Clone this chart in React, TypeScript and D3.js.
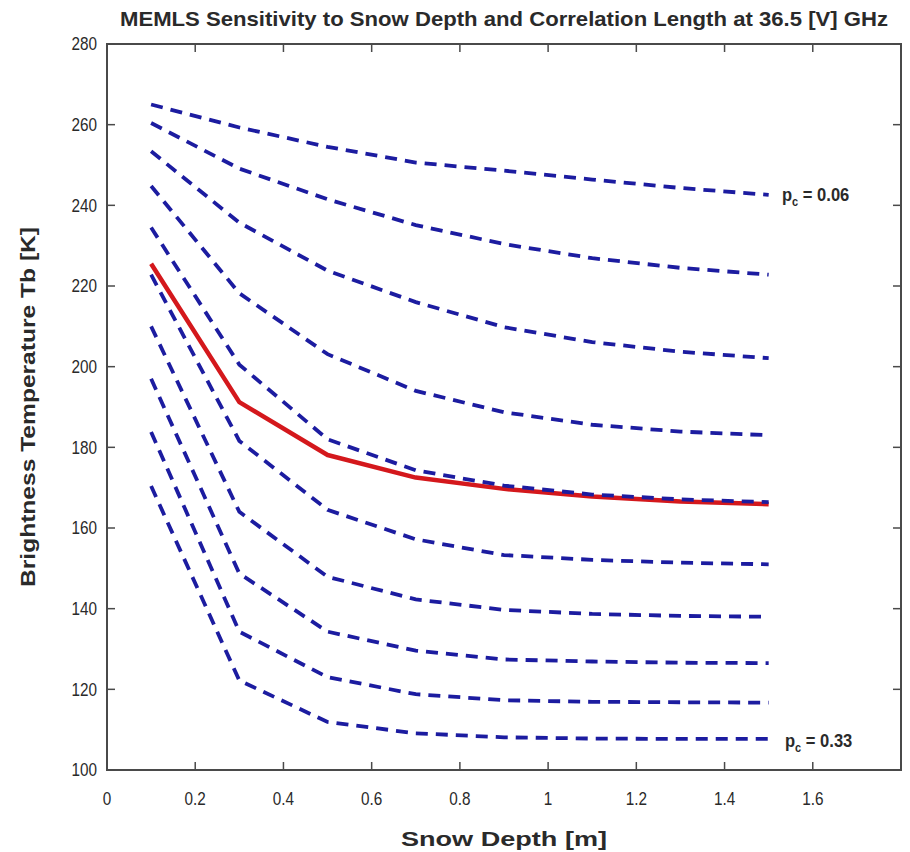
import React from "react";
import * as d3 from "d3";

// ---- data ----
const SNOW_DEPTH = [0.1, 0.3, 0.5, 0.7, 0.9, 1.1, 1.3, 1.5];
const PC_VALUES = [0.06, 0.09, 0.12, 0.15, 0.18, 0.21, 0.24, 0.27, 0.3, 0.33];

const TB_PC006 = [265.0, 259.3, 254.5, 250.6, 248.6, 246.4, 244.3, 242.6];
const TB_PC009 = [260.4, 249.1, 241.5, 235.1, 230.4, 226.9, 224.5, 222.8];
const TB_PC012 = [253.4, 235.7, 223.8, 216.0, 209.8, 206.1, 203.7, 202.1];
const TB_PC015 = [244.8, 218.2, 203.1, 194.0, 188.7, 185.6, 183.9, 183.0];
const TB_PC018 = [234.5, 200.5, 182.0, 174.3, 170.5, 168.3, 167.1, 166.4];
const TB_PC021 = [222.8, 181.6, 164.5, 157.2, 153.3, 152.1, 151.4, 151.0];
const TB_PC024 = [210.0, 164.0, 147.9, 142.3, 139.7, 138.7, 138.2, 138.0];
const TB_PC027 = [197.0, 148.7, 134.3, 129.6, 127.4, 126.9, 126.6, 126.5];
const TB_PC030 = [183.8, 134.3, 123.0, 118.8, 117.3, 116.9, 116.8, 116.7];
const TB_PC033 = [170.4, 122.2, 111.9, 109.1, 108.1, 107.8, 107.7, 107.7];
const TB_OBSERVED = [225.5, 191.2, 178.1, 172.5, 169.7, 167.8, 166.6, 165.9];

const BLUE_SERIES = [
  TB_PC006, TB_PC009, TB_PC012, TB_PC015, TB_PC018,
  TB_PC021, TB_PC024, TB_PC027, TB_PC030, TB_PC033,
];

const X_TICKS = [0, 0.2, 0.4, 0.6, 0.8, 1, 1.2, 1.4, 1.6, 1.8];
const X_TICK_LABELS = ["0", "0.2", "0.4", "0.6", "0.8", "1", "1.2", "1.4", "1.6", ""];
const Y_TICKS = [100, 120, 140, 160, 180, 200, 220, 240, 260, 280];

const TITLE = "MEMLS Sensitivity to Snow Depth and Correlation Length at 36.5 [V] GHz";
const X_LABEL = "Snow Depth [m]";
const Y_LABEL = "Brightness Temperature Tb  [K]";

export default function App() {
  const W = 910, H = 852;
  const left = 107, right = 901, top = 44, bottom = 770;
  const x = d3.scaleLinear().domain([0, 1.8]).range([left, right]);
  const y = d3.scaleLinear().domain([100, 280]).range([bottom, top]);
  const line = d3
    .line<number>()
    .x((_, i) => x(SNOW_DEPTH[i]))
    .y((d) => y(d));

  const axisColor = "#4a4a4a";
  const textColor = "#2a2a2a";
  const font = "'Liberation Sans', Arial, sans-serif";
  const tickLen = 8;

  const firstBlue = BLUE_SERIES[0];
  const lastBlue = BLUE_SERIES[BLUE_SERIES.length - 1];

  return (
    <svg
      width={W}
      height={H}
      style={{ position: "absolute", left: 0, top: 0, background: "#fff" }}
      fontFamily={font}
    >
      <rect x={0} y={0} width={W} height={H} fill="#fff" />

      {/* series */}
      <path
        d={line(TB_OBSERVED) || ""}
        fill="none"
        stroke="#d4181c"
        strokeWidth={4.5}
        strokeLinejoin="round"
      />
      {BLUE_SERIES.map((s, i) => (
        <path
          key={PC_VALUES[i]}
          d={line(s) || ""}
          fill="none"
          stroke="#1c1ca0"
          strokeWidth={3.8}
          strokeDasharray="12,8"
        />
      ))}

      {/* axes box */}
      <rect
        x={left}
        y={top}
        width={right - left}
        height={bottom - top}
        fill="none"
        stroke={axisColor}
        strokeWidth={2}
      />
      {X_TICKS.map((t, i) => (
        <g key={"xt" + i}>
          <line x1={x(t)} x2={x(t)} y1={bottom} y2={bottom - tickLen} stroke={axisColor} strokeWidth={1.5} />
          <line x1={x(t)} x2={x(t)} y1={top} y2={top + tickLen} stroke={axisColor} strokeWidth={1.5} />
          <g transform={`translate(${x(t)},805) scale(0.85,1)`}>
            <text x={0} y={0} textAnchor="middle" fontSize={18} fill={textColor}>
              {X_TICK_LABELS[i]}
            </text>
          </g>
        </g>
      ))}
      {Y_TICKS.map((t) => (
        <g key={"yt" + t}>
          <line x1={left} x2={left + tickLen} y1={y(t)} y2={y(t)} stroke={axisColor} strokeWidth={1.5} />
          <line x1={right} x2={right - tickLen} y1={y(t)} y2={y(t)} stroke={axisColor} strokeWidth={1.5} />
          <g transform={`translate(97,${y(t)}) scale(0.85,1)`}>
            <text x={0} y={0} dy="0.35em" textAnchor="end" fontSize={18} fill={textColor}>
              {t}
            </text>
          </g>
        </g>
      ))}

      {/* series labels */}
      <g transform={`translate(782,${y(firstBlue[firstBlue.length - 1]) + 6}) scale(0.92,1)`}>
        <text x={0} y={0} fontSize={18} fontWeight="bold" fill={textColor}>
          p<tspan fontSize={12} dy={5}>c</tspan>
          <tspan dy={-5}>{" = " + PC_VALUES[0].toFixed(2)}</tspan>
        </text>
      </g>
      <g transform={`translate(785,${y(lastBlue[lastBlue.length - 1]) + 8}) scale(0.92,1)`}>
        <text x={0} y={0} fontSize={18} fontWeight="bold" fill={textColor}>
          p<tspan fontSize={12} dy={5}>c</tspan>
          <tspan dy={-5}>{" = " + PC_VALUES[PC_VALUES.length - 1].toFixed(2)}</tspan>
        </text>
      </g>

      {/* title & axis labels */}
      <text
        x={(left + right) / 2}
        y={26}
        textAnchor="middle"
        fontSize={21}
        fontWeight="bold"
        fill={textColor}
        textLength={768}
        lengthAdjust="spacingAndGlyphs"
      >
        {TITLE}
      </text>
      <text
        x={(left + right) / 2}
        y={846}
        textAnchor="middle"
        fontSize={21}
        fontWeight="bold"
        fill={textColor}
        textLength={206}
        lengthAdjust="spacingAndGlyphs"
      >
        {X_LABEL}
      </text>
      <text
        transform={`translate(35, ${(top + bottom) / 2}) rotate(-90)`}
        textAnchor="middle"
        fontSize={20}
        fontWeight="bold"
        fill={textColor}
        textLength={360}
        lengthAdjust="spacingAndGlyphs"
      >
        {Y_LABEL}
      </text>
    </svg>
  );
}
